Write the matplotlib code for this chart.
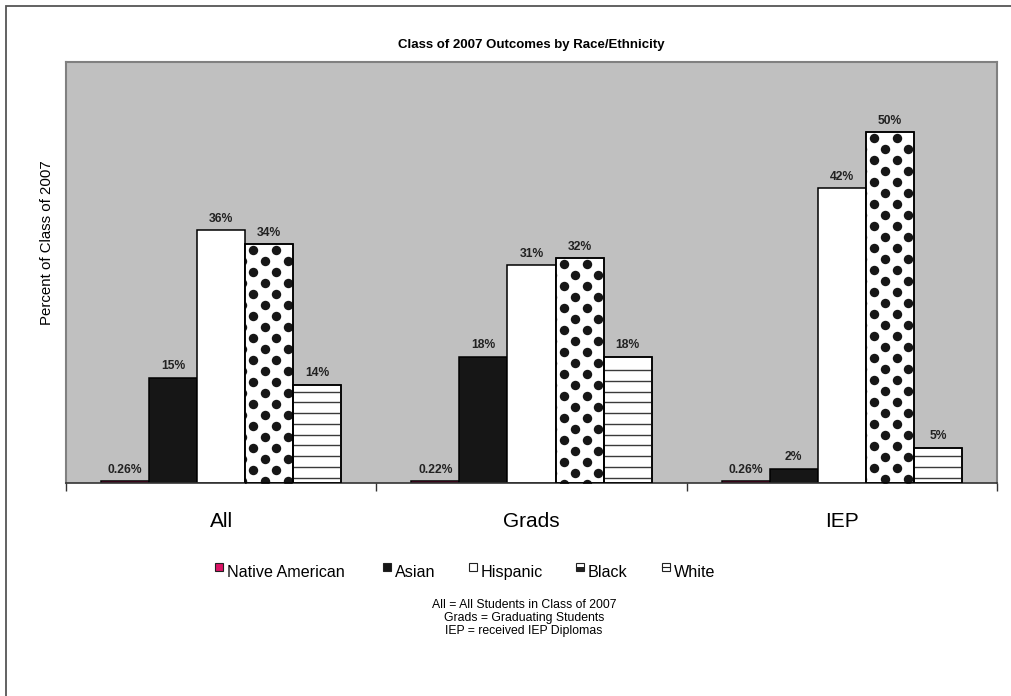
import matplotlib
matplotlib.use("Agg")
import matplotlib.pyplot as plt
from matplotlib.patches import Rectangle
import numpy as np

plt.rcParams['font.family'] = ['Liberation Sans', 'DejaVu Sans']

# ---- data -------------------------------------------------------------
groups = ["All", "Grads", "IEP"]
races = ["Native American", "Asian", "Hispanic", "Black", "White"]
native_american = [0.26, 0.22, 0.26]
asian = [15, 18, 2]
hispanic = [36, 31, 42]
black = [34, 32, 50]
white = [14, 18, 5]
footnotes = ["All = All Students in Class of 2007",
             "Grads = Graduating Students",
             "IEP = received IEP Diplomas"]
title = "Class of 2007 Outcomes by Race/Ethnicity"
ylabel = "Percent of Class of 2007"

series = [native_american, asian, hispanic, black, white]
faces = ["#DC1466", "#161616", "white", "white", "white"]

# ---- layout (pixels) ----------------------------------------------------
W, H = 1012, 696
ax_l, ax_r, ax_t, ax_b = 66, 997, 62, 483

fig = plt.figure(figsize=(W / 100, H / 100), dpi=100)
fig.patch.set_facecolor("white")
ax = fig.add_axes([ax_l / W, 1 - ax_b / H, (ax_r - ax_l) / W, (ax_b - ax_t) / H])
ax.set_facecolor("#C0C0C0")
ax.set_xlim(-0.5, 2.5)
ax.set_ylim(0, 60)

# data units per pixel
px_x = 3.0 / (ax_r - ax_l)
px_y = 60.0 / (ax_b - ax_t)

bw = 0.155
xs = np.arange(len(groups))

for i, (vals, fc) in enumerate(zip(series, faces)):
    pos = xs + (i - 2) * bw
    bars = ax.bar(pos, vals, bw, color=fc, edgecolor="black", linewidth=1.1, zorder=2)

    if races[i] == "Black":
        # filled dot pattern, clipped to each bar
        for bar in bars:
            x0, w, h = bar.get_x(), bar.get_width(), bar.get_height()
            pts = []
            j = 0
            while (6 + 11 * j) * px_y < h + 5 * px_y:
                yc = h - (6 + 11 * j) * px_y
                shift = -11.5 if j % 2 else 0.0
                for k in range(-1, 4):
                    xc = x0 + (8 + 23 * k + shift) * px_x
                    if x0 - 5 * px_x < xc < x0 + w + 5 * px_x:
                        pts.append((xc, yc))
                j += 1
            pts = np.array(pts)
            sc = ax.scatter(pts[:, 0], pts[:, 1], s=46, color="#161616",
                            linewidths=0, zorder=3)
            sc.set_clip_path(bar)
        ax.bar(pos, vals, bw, fill=False, edgecolor="black", linewidth=1.1, zorder=4)

    if races[i] == "White":
        # horizontal stripe pattern
        for bar in bars:
            x0, w, h = bar.get_x(), bar.get_width(), bar.get_height()
            k = 0
            while (5.5 + 10.75 * k) * px_y < h - 3 * px_y:
                yy = (5.5 + 10.75 * k) * px_y
                ax.hlines(yy, x0, x0 + w, colors="#3a3a3a", linewidth=1.0, zorder=3)
                k += 1
        ax.bar(pos, vals, bw, fill=False, edgecolor="black", linewidth=1.1, zorder=4)

    for xc, v in zip(pos, vals):
        ax.annotate(f"{v:g}%", (xc, v), xytext=(0, 4), textcoords="offset points",
                    ha="center", va="bottom", fontsize=8.7, fontweight="bold",
                    color="#222222", zorder=5)

# ---- axes styling -------------------------------------------------------
for side in ("left", "top", "right"):
    ax.spines[side].set_color("#808080")
    ax.spines[side].set_linewidth(1.5)
ax.spines["bottom"].set_color("#333333")
ax.spines["bottom"].set_linewidth(1.2)

ax.set_yticks([])
ax.set_xticks(xs)
ax.set_xticklabels(groups, fontsize=15)
ax.tick_params(axis="x", which="major", length=0, pad=21)
ax.set_xticks([-0.5, 0.5, 1.5, 2.5], minor=True)
ax.tick_params(axis="x", which="minor", length=6, width=1.0, color="#333333",
               direction="out")

# ---- titles ---------------------------------------------------------------
fig.text((ax_l + ax_r) / 2 / W, 1 - 45 / H, title, ha="center", va="center",
         fontsize=9.5, fontweight="bold")
fig.text(47 / W, 1 - 243 / H, ylabel, rotation=90, ha="center", va="center",
         fontsize=10.8)

# ---- legend ---------------------------------------------------------------
leg_x = [215, 383, 469, 576, 662]
sq = 8
for name, fc, lx in zip(races, faces, leg_x):
    y_top = 563
    fig.add_artist(Rectangle((lx / W, 1 - (y_top + sq) / H), sq / W, sq / H,
                             transform=fig.transFigure, facecolor=fc,
                             edgecolor="#222222", linewidth=0.8))
    if name == "Black":
        fig.add_artist(Rectangle((lx / W, 1 - (y_top + sq) / H), sq / W, 0.55 * sq / H,
                                 transform=fig.transFigure, facecolor="#222222",
                                 edgecolor="none"))
    if name == "White":
        fig.add_artist(plt.Line2D([lx / W, (lx + sq) / W],
                                  [1 - (y_top + sq / 2) / H] * 2,
                                  transform=fig.transFigure, color="#222222",
                                  linewidth=0.8))
    fig.text((lx + 12) / W, 1 - 577 / H, name, ha="left", va="baseline",
             fontsize=11.6)

# ---- footnote -------------------------------------------------------------
for n, line in enumerate(footnotes):
    fig.text(524 / W, 1 - (605 + 13 * n) / H, line, ha="center", va="center",
             fontsize=8.8)

# ---- outer frame ----------------------------------------------------------
fig.add_artist(Rectangle((6 / W, -0.05), 1.2, 1 - 6 / H + 0.05,
                         transform=fig.transFigure, fill=False,
                         edgecolor="#555555", linewidth=1.3))

fig.savefig("out.png", dpi=100)
